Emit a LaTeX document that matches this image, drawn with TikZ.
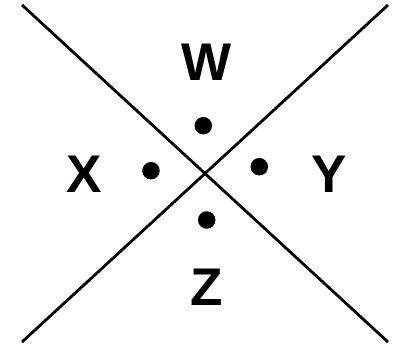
\documentclass[tikz,border=0pt]{standalone}
\usepackage{fontspec}
\setmainfont{Liberation Sans}
\usetikzlibrary{positioning}

\begin{document}
\begin{tikzpicture}[x=1pt,y=-1pt,
 dot/.style={circle,fill=black,inner sep=0pt,minimum size=17.5pt},
 letter/.style={inner sep=0pt,font=\fontsize{53}{60}\selectfont\bfseries},
 diag/.style={draw=black,line width=2.8pt}
]
\useasboundingbox (0,0) rectangle (394,345);
\coordinate (tl) at (22,5);
\coordinate (br) at (388,342);
\coordinate (tr) at (388,5);
\coordinate (bl) at (22,342);
\draw[diag] (tl)--(br);
\draw[diag] (tr)--(bl);
\node[dot] (dw) at (203.3,125.7) {};
\node[dot] (dx) at (151,170.7) {};
\node[dot] (dy) at (259.3,166.7) {};
\node[dot] (dz) at (206.7,220) {};
\node[letter] (w) at (207,62.5) {W};
\node[letter] (x) at (83.8,174.5) {X};
\node[letter] (y) at (329,174.5) {Y};
\node[letter] (z) at (206.7,287) {Z};
\end{tikzpicture}
\end{document}
